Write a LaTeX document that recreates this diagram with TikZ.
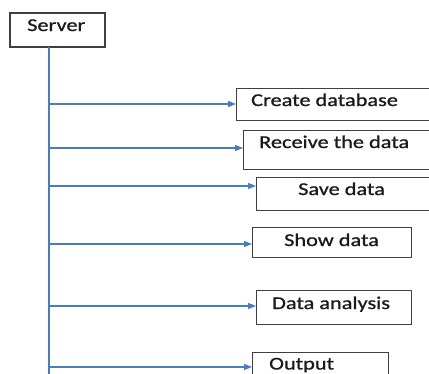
\documentclass[tikz,border=0pt]{standalone}
\usepackage{fontspec}
\setmainfont{Carlito}[FakeStretch=1.24,FakeBold=0.9]
\usetikzlibrary{arrows.meta}
\definecolor{lineblue}{HTML}{4A7EBB}
\definecolor{boxgray}{HTML}{3F3F3F}
\definecolor{txt}{HTML}{1A1A1A}
\begin{document}
\begin{tikzpicture}[x=1pt,y=-1pt,
  box/.style={draw=boxgray, line width=1pt, fill=white, rectangle, inner sep=0pt, anchor=north west},
  sbox/.style={draw=boxgray, line width=1.8pt, fill=white, rectangle, inner sep=0pt, anchor=north west},
  lbl/.style={anchor=base west, inner sep=0pt, text=txt, font=\fontsize{18}{20}\selectfont},
  vline/.style={draw=lineblue, line width=1.3pt},
  arr/.style={draw=lineblue, line width=1.1pt, -{Triangle[length=8pt,width=6pt]}}]
\useasboundingbox (0,0) rectangle (429,373);
\clip (0,0) rectangle (429,373);
\fill[white] (0,0) rectangle (429,373);
% server
\node[sbox, minimum width=95pt, minimum height=34pt] (server) at (9,12) {};
\node[lbl] (tserver) at (27,31) {Server};
\coordinate (vtop) at (49,46.9);
\coordinate (vbot) at (49,380);
\draw[vline] (vtop) -- (vbot);
% boxes
\node[box, minimum width=210pt, minimum height=32pt] (b1) at (236,88) {};
\node[box, minimum width=200pt, minimum height=39pt] (b2) at (243,130) {};
\node[box, minimum width=190pt, minimum height=33pt] (b3) at (256,177) {};
\node[box, minimum width=159pt, minimum height=30pt] (b4) at (252,227) {};
\node[box, minimum width=155pt, minimum height=34pt] (b5) at (256,290) {};
\node[box, minimum width=136pt, minimum height=40pt] (b6) at (252,352) {};
\node[lbl] (t1) at (251,106) {Create database};
\node[lbl] (t2) at (259,148) {Receive the data};
\node[lbl] (t3) at (298,195) {Save data};
\node[lbl] (t4) at (284,246) {Show data};
\node[lbl] (t5) at (272,309) {Data analysis};
\node[lbl] (t6) at (269,369.5) {Output};
% arrows
\coordinate (v1) at (49,104);
\coordinate (v2) at (49,148);
\coordinate (v3) at (49,186);
\coordinate (v4) at (49,244);
\coordinate (v5) at (49,306);
\coordinate (v6) at (49,367);
\draw[arr] (v1) -- (v1 -| b1.west);
\draw[arr] (v2) -- (v2 -| b2.west);
\draw[arr] (v3) -- (v3 -| b3.west);
\draw[arr] (v4) -- (v4 -| b4.west);
\draw[arr] (v5) -- (v5 -| b5.west);
\draw[arr] (v6) -- (v6 -| b6.west);
\end{tikzpicture}
\end{document}
